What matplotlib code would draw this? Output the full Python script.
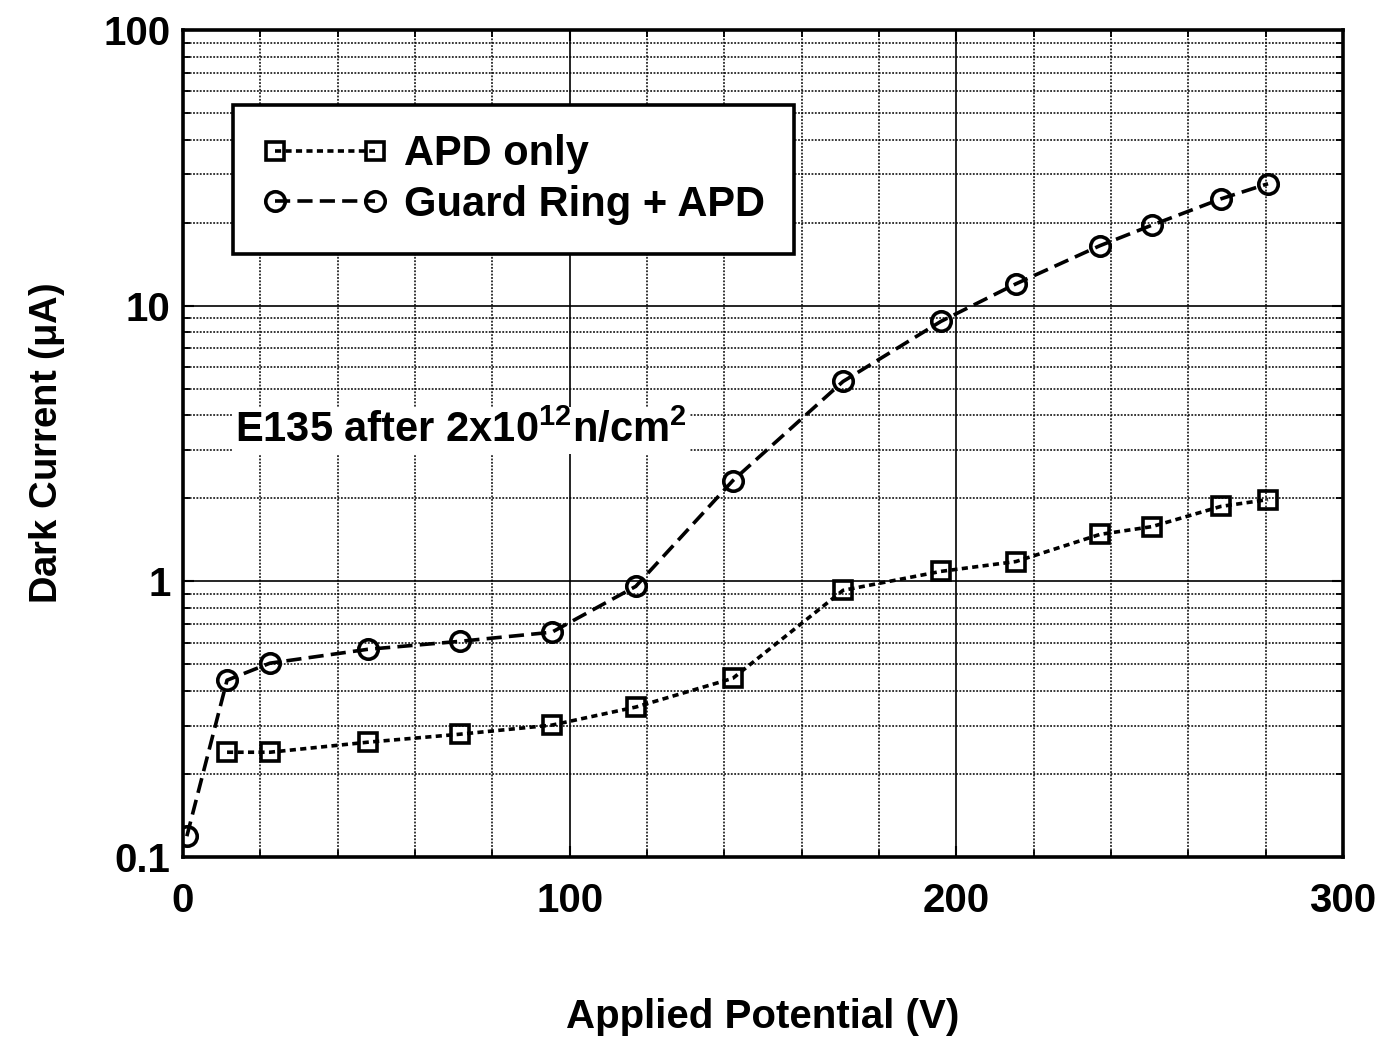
import numpy as np
import matplotlib
matplotlib.use("Agg")
import matplotlib.pyplot as plt
from matplotlib.ticker import FixedLocator, MultipleLocator, NullFormatter

plt.rcParams['font.family'] = ['Liberation Sans', 'DejaVu Sans']
plt.rcParams['font.weight'] = 'bold'
plt.rcParams['axes.labelweight'] = 'bold'
plt.rcParams['mathtext.fontset'] = 'custom'
plt.rcParams['mathtext.rm'] = 'Liberation Sans:bold'
plt.rcParams['mathtext.it'] = 'Liberation Sans:bold'
plt.rcParams['mathtext.bf'] = 'Liberation Sans:bold'

# readings
volts_ring = [1, 11.4, 22.5, 47.8, 71.6, 95.4, 117.1, 142.2, 170.7, 196, 215.4, 237.1, 250.6, 268.4, 280.6]
amps_ring = [0.119, 0.438, 0.505, 0.567, 0.606, 0.654, 0.959, 2.32, 5.31, 8.77, 12.0, 16.5, 19.6, 24.4, 27.7]

volts_apd = [11.4, 22.5, 47.8, 71.6, 95.4, 117.1, 142.2, 170.7, 196, 215.4, 237.1, 250.6, 268.4, 280.6]
amps_apd = [0.240, 0.240, 0.261, 0.279, 0.301, 0.350, 0.445, 0.928, 1.087, 1.18, 1.48, 1.58, 1.87, 1.98]

y_ticks = [0.1, 1, 10, 100]
y_labels = ['0.1', '1', '10', '100']
x_ticks = [0, 100, 200, 300]

fig = plt.figure(figsize=(13.84, 10.42), dpi=100)
ax = fig.add_axes([0.1322, 0.1775, 0.8382, 0.7937])

ax.plot(volts_apd, amps_apd, color='black', lw=2.6, ls=(0, (1.7, 1.2)),
        marker='s', ms=13, mfc='none', mec='black', mew=2.6, label='APD only')
ax.plot(volts_ring, amps_ring, color='black', lw=2.6, ls=(0, (4.2, 2.0)),
        marker='o', ms=14, mfc='none', mec='black', mew=2.6, label='Guard Ring + APD')

ax.set_yscale('log')
ax.set_xlim(0, 300)
ax.set_ylim(0.1, 100)

ax.xaxis.set_major_locator(FixedLocator(x_ticks))
ax.xaxis.set_minor_locator(MultipleLocator(20))
ax.yaxis.set_major_locator(FixedLocator(y_ticks))
ax.set_yticklabels(y_labels)
ax.yaxis.set_minor_locator(FixedLocator([m * d for d in [0.1, 1, 10] for m in range(2, 10)]))
ax.yaxis.set_minor_formatter(NullFormatter())

ax.grid(which='major', color='black', lw=1.2, ls='-')
ax.grid(which='minor', color='black', lw=1.1, ls=(0, (1.2, 1.0)))
ax.set_axisbelow(True)

ax.tick_params(which='both', direction='in', top=True, right=True)
ax.tick_params(which='major', length=8, width=1.5, labelsize=29)
ax.tick_params(which='minor', length=5, width=1.3)
ax.tick_params(axis='x', pad=18)
ax.tick_params(axis='y', pad=9)
for s in ax.spines.values():
    s.set_linewidth(2.6)

ax.set_xlabel('Applied Potential (V)', fontsize=29, labelpad=56)
ax.set_ylabel('Dark Current ($\\mu$A)', fontsize=27.5, labelpad=26)

ax.text(0.045, 0.502, 'E135 after 2x10$^{12}$n/cm$^2$', transform=ax.transAxes,
        fontsize=30, va='baseline', ha='left',
        bbox=dict(facecolor='white', edgecolor='none', pad=2))

leg = ax.legend(loc='upper left', bbox_to_anchor=(0.043, 0.909), numpoints=2,
                prop={'size': 30, 'weight': 'bold'}, handlelength=3.0, fancybox=False,
                framealpha=1, edgecolor='black', borderpad=0.7, labelspacing=0.25,
                handletextpad=0.4, borderaxespad=0)
leg.get_frame().set_linewidth(2.6)

fig.savefig('out.png', dpi=100)
